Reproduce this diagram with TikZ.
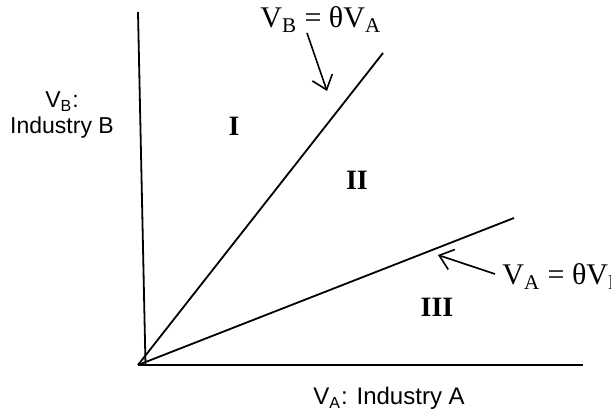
\documentclass[tikz,border=0pt]{standalone}
\usepackage{fontspec}
\setmainfont{Liberation Serif}
\setsansfont{Liberation Sans}
\usetikzlibrary{arrows.meta}
\tikzset{
  ray/.style={line width=0.9pt},
  pointer/.style={line width=0.8pt, -{Straight Barb[length=6.5pt,width=10.5pt]}},
  eqlabel/.style={font=\fontsize{15}{18}\selectfont, inner sep=0pt, anchor=base west},
  region/.style={font=\bfseries\fontsize{14}{16}\selectfont, inner sep=0pt},
  axlabel/.style={font=\sffamily\fontsize{11.5}{13}\selectfont, inner sep=0pt},
}
\begin{document}
\begin{tikzpicture}[x=0.5pt, y=-0.5pt]
  \useasboundingbox (0,0) rectangle (611,415);
  % Axes
  \coordinate (O) at (138,365);
  \coordinate (xend) at (583,365);
  \coordinate (yfoot) at (145.5,365);
  \coordinate (ytop) at (138,12);
  \draw[ray] (O) -- (xend);
  \draw[ray] (yfoot) -- (ytop);
  % Rays
  \coordinate (rayB) at (383,53);
  \coordinate (rayA) at (514,218);
  \draw[ray] (O) -- (rayB);
  \draw[ray] (O) -- (rayA);
  % Axis labels
  \node[axlabel, align=center, anchor=base] (ylab) at (62,134) {V\textsubscript{B}:\\Industry B};
  \node[axlabel, font=\sffamily\fontsize{12}{14}\selectfont, anchor=base west] (xlab) at (313,405) {V\textsubscript{A}: Industry A};
  % Equations and pointers
  \node[eqlabel] (eqB) at (260,28) {V\textsubscript{B} = θV\textsubscript{A}};
  \node[eqlabel] (eqA) at (502,285) {V\textsubscript{A} = θV\textsubscript{B}};
  \coordinate (pB) at (307,33);
  \coordinate (tB) at (327,91);
  \coordinate (pA) at (495,274);
  \coordinate (tA) at (438,255);
  \draw[pointer] (pB) -- (tB);
  \draw[pointer] (pA) -- (tA);
  % Regions
  \node[region] (rI) at (234,126) {I};
  \node[region] (rII) at (357,180) {II};
  \node[region] (rIII) at (437,307) {III};
\end{tikzpicture}
\end{document}
